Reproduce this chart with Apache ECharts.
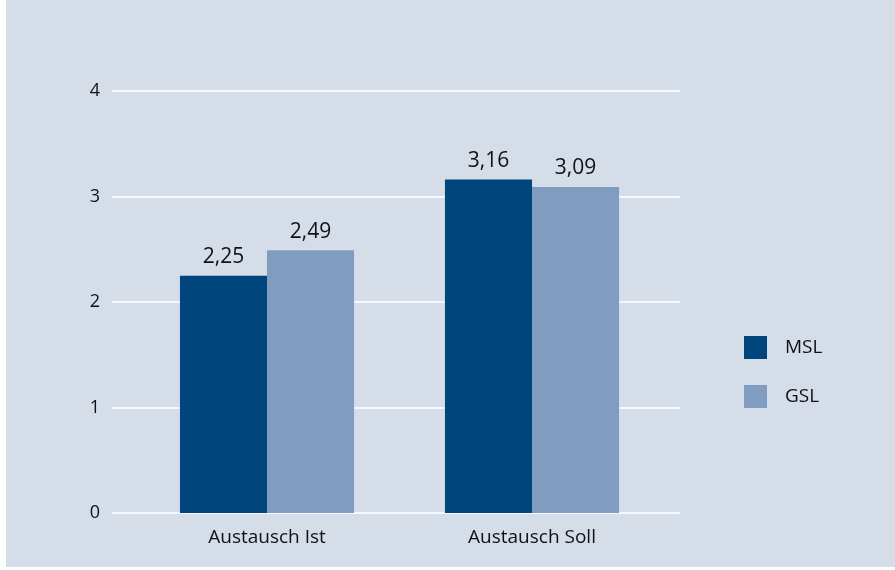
<!DOCTYPE html>
<html><head><meta charset="utf-8">
<script src="https://cdn.jsdelivr.net/npm/echarts@6/dist/echarts.min.js"></script>
<style>html,body{margin:0;padding:0;background:#fff}#c{width:895px;height:570px}</style>
</head><body><div id="c"></div>
<script>
const categories = ['Austausch Ist', 'Austausch Soll'];
const seriesNames = ['MSL', 'GSL'];
const msl = [2.25, 3.16];
const gsl = [2.49, 3.09];
const yTicks = [0, 1, 2, 3, 4];

const FONT = '"Open Sans", "Noto Sans", sans-serif';
const fmt = v => String(v.toFixed(2)).replace('.', ',');
const chart = echarts.init(document.getElementById('c'));
chart.setOption({
  backgroundColor: '#ffffff',
  graphic: [{type:'rect', shape:{x:6,y:0,width:889,height:567}, style:{fill:'#d5dde9'}, z:-10}],
  textStyle: {fontFamily: FONT},
  legend: {
    orient: 'vertical', left: 744, top: 336, padding: 0, itemWidth: 23, itemHeight: 23, itemGap: 26,
    icon: 'rect', data: seriesNames,
    textStyle: {fontFamily: FONT, fontSize: 19, color: '#111111', padding: [0,0,0,13]}
  },
  grid: [
    {left: 112, right: 215, top: 91, bottom: 57},
    {left: 134.5, right: 230.5, top: 91, bottom: 57}
  ],
  xAxis: [
    {gridIndex: 0, type: 'value', show: false, min: 0, max: 1},
    {gridIndex: 1, type: 'category', data: categories,
     axisLine: {show: false}, axisTick: {show: false},
     axisLabel: {margin: 15, fontSize: 19, color: '#111111', fontFamily: FONT}}
  ],
  yAxis: [
    {gridIndex: 0, type: 'value', min: yTicks[0], max: yTicks[yTicks.length-1], interval: 1,
     axisLine: {show: false}, axisTick: {show: false},
     axisLabel: {margin: 12, fontSize: 18, color: '#111111', fontFamily: FONT},
     splitLine: {lineStyle: {color: '#ffffff', width: 1.5}}},
    {gridIndex: 1, type: 'value', min: 0, max: 4, interval: 1, show: false, splitLine: {show: false}}
  ],
  series: [
    {name: seriesNames[0], type: 'bar', xAxisIndex: 1, yAxisIndex: 1, data: msl,
     barGap: '0%', barCategoryGap: '34.3%', itemStyle: {color: '#00457c'},
     label: {show: true, position: 'top', distance: 8, fontSize: 21, color: '#111111', fontFamily: FONT,
             formatter: p => fmt(p.value)}},
    {name: seriesNames[1], type: 'bar', xAxisIndex: 1, yAxisIndex: 1, data: gsl,
     barGap: '0%', barCategoryGap: '34.3%', itemStyle: {color: '#809cc0'},
     label: {show: true, position: 'top', distance: 8, fontSize: 21, color: '#111111', fontFamily: FONT,
             formatter: p => fmt(p.value)}}
  ]
});
</script></body></html>
